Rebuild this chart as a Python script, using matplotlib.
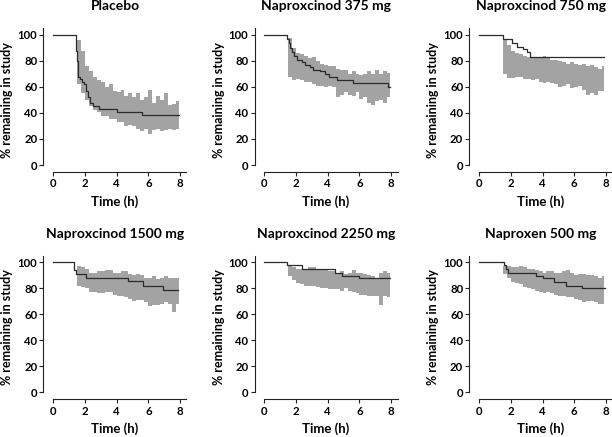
import matplotlib
matplotlib.use("Agg")
import matplotlib.pyplot as plt

plt.rcParams["font.family"] = ["Lato", "DejaVu Sans"]
plt.rcParams["font.weight"] = "bold"

TITLES = ["Placebo", "Naproxcinod 375 mg", "Naproxcinod 750 mg",
          "Naproxcinod 1500 mg", "Naproxcinod 2250 mg", "Naproxen 500 mg"]

# prediction band time grid (h)
BAND_T = [1.5, 1.75, 2.0, 2.25, 2.5, 2.75, 3.0, 3.25, 3.5, 3.75, 4.0, 4.25, 4.5,
          4.75, 5.0, 5.25, 5.5, 5.75, 6.0, 6.25, 6.5, 6.75, 7.0, 7.25, 7.5, 7.75, 7.9]

# observed Kaplan-Meier curves (time, % remaining)
KM_T = [
    [0, 1.45, 1.5, 1.55, 1.6, 1.7, 1.8, 1.95, 2.1, 2.2, 2.3, 2.5, 2.9, 4.0, 5.6, 7.9],
    [0, 1.45, 1.55, 1.65, 1.75, 1.85, 2.05, 2.4, 2.6, 2.9, 3.1, 3.5, 3.8, 4.1, 4.6, 5.6, 7.8, 7.9],
    [0, 1.5, 2.05, 2.4, 2.8, 3.0, 3.2, 7.85],
    [0, 1.35, 1.45, 2.1, 4.7, 5.65, 6.9, 7.85],
    [0, 1.45, 2.4, 4.45, 4.9, 6.0, 7.9],
    [0, 1.55, 1.72, 1.85, 3.6, 4.05, 4.7, 5.5, 6.5, 7.95],
]
KM_V = [
    [100, 88, 80, 74, 68, 66, 64, 62, 57, 52, 48, 45, 43, 41, 38.5, 38.5],
    [100, 97, 94, 90, 87, 84, 81, 79, 77, 75, 73, 72, 70, 68, 65, 63, 60, 60],
    [100, 97, 94, 91, 89, 87, 83, 83],
    [100, 94, 91, 88, 85.5, 81.5, 78.5, 78.5],
    [100, 97.5, 95, 92, 89.5, 87.5, 87.5],
    [100, 97.5, 94.5, 92, 89.5, 87.5, 84.5, 81.5, 80, 80],
]

# simulated 90% prediction interval
BAND_LO = [
    [62, 55, 50, 45, 42, 41, 38, 38, 35, 35, 33, 33, 30, 31, 30, 28, 26, 28, 24, 27, 28, 26, 27, 28, 27, 28, 28],
    [68, 65, 66, 65, 64, 64, 62, 61, 61, 60, 61, 60, 52, 54, 56, 54, 53, 56, 51, 52, 48, 46, 49, 50, 48, 52, 48],
    [70, 67, 67, 68, 68, 66, 66, 65, 66, 64, 63, 64, 63, 62, 60, 61, 62, 59, 60, 61, 58, 54, 55, 54, 57, 57, 57],
    [82, 81, 80, 77, 77, 76, 76, 77, 77, 75, 74, 74, 73, 72, 70, 71, 71, 69, 66, 67, 67, 68, 69, 68, 62, 68, 68],
    [89, 86, 84, 83, 82, 82, 82, 81, 80, 80, 79, 79, 79, 78, 80, 78, 77, 76, 75, 75, 74, 74, 74, 67, 74, 73, 73],
    [91, 88, 85, 84, 83, 81, 80, 79, 78, 77, 76, 77, 76, 75, 74, 74, 73, 73, 72, 71, 69, 70, 70, 69, 68, 68, 68],
]
BAND_HI = [
    [96, 88, 76, 72, 68, 65, 64, 60, 62, 57, 56, 58, 53, 55, 52, 55, 50, 52, 58, 48, 53, 50, 55, 46, 47, 49, 49],
    [98, 90, 86, 85, 84, 82, 83, 80, 78, 77, 76, 76, 74, 73, 73, 70, 72, 70, 69, 70, 72, 70, 73, 70, 72, 71, 71],
    [96, 92, 88, 86, 85, 84, 83, 82, 82, 83, 84, 82, 81, 81, 80, 79, 78, 79, 78, 77, 78, 76, 77, 75, 74, 76, 76],
    [97, 96, 95, 92, 92, 93, 93, 94, 94, 92, 92, 93, 93, 91, 90, 91, 90, 88, 88, 89, 87, 88, 89, 88, 88, 88, 88],
    [97, 96, 95, 95, 95, 96, 96, 95, 94, 94, 93, 93, 92, 93, 91, 92, 94, 92, 92, 91, 90, 89, 88, 92, 93, 92, 92],
    [97, 97, 96, 96, 97, 96, 95, 95, 94, 93, 92, 93, 93, 92, 92, 93, 94, 92, 90, 91, 91, 90, 90, 89, 88, 89, 89],
]

XTICKS = [0, 2, 4, 6, 8]
YTICKS = [0, 20, 40, 60, 80, 100]

fig = plt.figure(figsize=(6.12, 4.37), dpi=100)
lefts = [0.071, 0.416, 0.767]
bottoms = [0.606, 0.086]
w, h = 0.2337, 0.329

for i, title in enumerate(TITLES):
    ax = fig.add_axes([lefts[i % 3], bottoms[i // 3], w, h])
    ax.fill_between(BAND_T, BAND_LO[i], BAND_HI[i], step="post",
                    color="#a3a3a3", linewidth=0)
    ax.step(KM_T[i], KM_V[i], where="post", color="#2b2b2b", linewidth=0.9)

    ax.set_xlim(-0.6, 8.4)
    ax.set_ylim(-5.5, 105)
    ax.set_xticks(XTICKS)
    ax.set_yticks(YTICKS)
    for s in ("top", "right"):
        ax.spines[s].set_visible(False)
    ax.spines["left"].set_bounds(0, 105)
    ax.spines["bottom"].set_bounds(0, 8.4)
    for s in ("left", "bottom"):
        ax.spines[s].set_linewidth(0.8)
        ax.spines[s].set_color("#222222")
    ax.tick_params(direction="out", length=3, width=0.8, labelsize=8.2,
                   pad=1.5, colors="#222222")
    for lab in ax.get_xticklabels() + ax.get_yticklabels():
        lab.set_fontweight("bold")
        lab.set_color("black")

    ax.set_title(title, fontsize=10, fontweight="bold", pad=13)
    ax.set_xlabel("Time (h)", fontsize=9.5, fontweight="bold", labelpad=4)
    ax.set_ylabel("% remaining in study", fontsize=9, fontweight="bold", labelpad=3)

fig.savefig("out.png", dpi=100)
